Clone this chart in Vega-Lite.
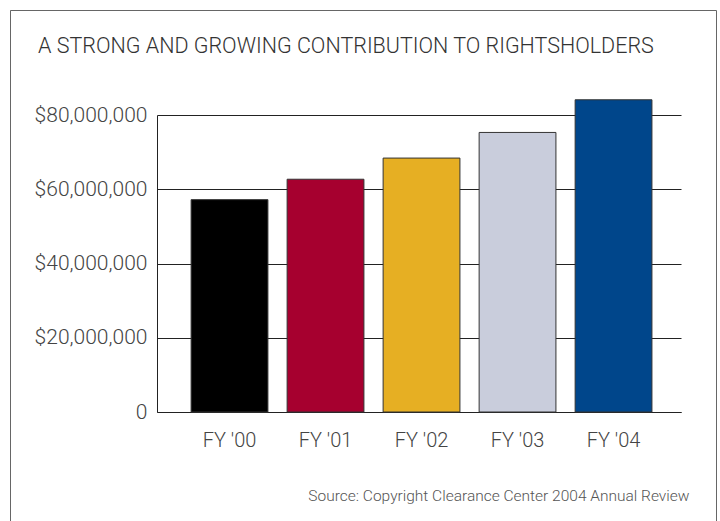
{
  "$schema": "https://vega.github.io/schema/vega-lite/v6.json",
  "width": 706,
  "height": 511,
  "autosize": {"type": "none"},
  "padding": {"left": 10, "top": 10, "right": 4, "bottom": 0},
  "background": "white",
  "config": {
    "view": {"stroke": "#666", "strokeWidth": 1, "strokeDash": [1217, 706, 511, 1]},
    "font": "Roboto"
  },
  "title": {
    "text": "A STRONG AND GROWING CONTRIBUTION TO RIGHTSHOLDERS",
    "anchor": "start",
    "frame": "group",
    "offset": -64,
    "dx": 28,
    "baseline": "alphabetic",
    "fontSize": 21.5,
    "font": "Roboto",
    "fontWeight": 300,
    "color": "#333"
  },
  "data": {
    "values": [
      {"year": "FY '00", "amount": 57200000},
      {"year": "FY '01", "amount": 62700000},
      {"year": "FY '02", "amount": 68400000},
      {"year": "FY '03", "amount": 75300000},
      {"year": "FY '04", "amount": 84100000}
    ]
  },
  "mark": {"type": "bar", "stroke": "#333", "strokeWidth": 1},
  "encoding": {
    "x": {
      "field": "year",
      "type": "nominal",
      "sort": null,
      "scale": {"range": [147, 671], "paddingInner": 0.2, "paddingOuter": 0.329, "align": 0.54},
      "axis": {
        "title": "Source: Copyright Clearance Center 2004 Annual Review",
        "titleAnchor": "end",
        "titleAlign": "right",
        "titleFontSize": 15.5,
        "titleFontWeight": 300,
        "titleColor": "#555",
        "titlePadding": 38,
        "titleX": 679,
        "labelAngle": 0,
        "labelFontSize": 20,
        "labelFontWeight": 300,
        "labelColor": "#444",
        "labelPadding": 18,
        "ticks": false,
        "tickSize": 0,
        "offset": -109,
        "domainColor": "#222",
        "grid": false
      }
    },
    "y": {
      "field": "amount",
      "type": "quantitative",
      "scale": {"domain": [0, 80000000], "range": [402, 105], "nice": false, "zero": true},
      "axis": {
        "title": null,
        "values": [0, 20000000, 40000000, 60000000, 80000000],
        "labelExpr": "datum.value == 0 ? '0' : '$' + format(datum.value, ',')",
        "offset": -147,
        "ticks": false,
        "tickSize": 0,
        "labelPadding": 10,
        "labelFontSize": 21,
        "labelFontWeight": 300,
        "labelColor": "#444",
        "domainColor": "#222",
        "grid": true,
        "gridColor": "#222",
        "gridOpacity": 1
      }
    },
    "color": {
      "field": "year",
      "type": "nominal",
      "sort": null,
      "scale": {
        "domain": ["FY '00", "FY '01", "FY '02", "FY '03", "FY '04"],
        "range": ["#000000", "#A6002F", "#E6AF23", "#C9CDDC", "#00468B"]
      },
      "legend": null
    }
  }
}
